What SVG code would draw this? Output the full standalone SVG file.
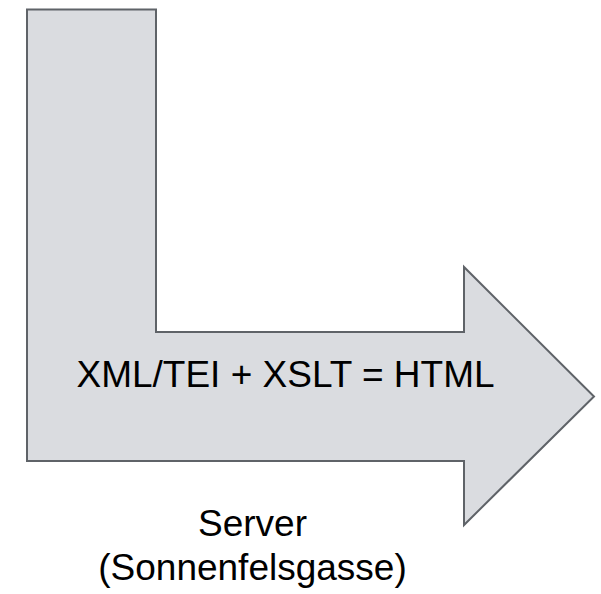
<svg xmlns="http://www.w3.org/2000/svg" width="601" height="594" viewBox="0 0 601 594">
<style>
.shape{fill:#dadce0;stroke:#5f6368;stroke-width:2;stroke-linejoin:miter}
.t{font-family:"Liberation Sans",Arial,sans-serif;fill:#000;text-anchor:middle;font-size:37px}
</style>
<rect width="601" height="594" fill="#fff"/>
<g id="arrow">
<polygon class="shape" points="27,9.5 156,9.5 156,332 464,332 464,267 594,396.5 464,525 464,461 27,461"/>
<text class="t" x="285.5" y="387">XML/TEI + XSLT = HTML</text>
</g>
<g id="label">
<text class="t" x="252.5" y="536">Server</text>
<text class="t" x="252.5" y="580">(Sonnenfelsgasse)</text>
</g>
<g id="connectors"></g>
</svg>
